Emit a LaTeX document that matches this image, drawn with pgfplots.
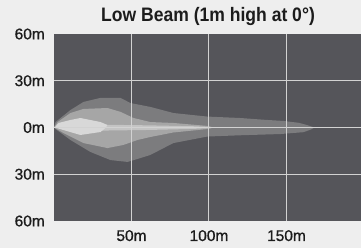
\documentclass[border=0pt]{standalone}
\usepackage{pgfplots}
\pgfplotsset{compat=1.18}
\usepackage{fontspec}
\setmainfont{Liberation Sans}
\newfontfamily\titlefont{Liberation Sans}[UprightFont=*-Bold, FakeStretch=0.9]
\newfontfamily\tickfont{Liberation Sans}[FakeBold=0.8]
\definecolor{bg}{HTML}{EEEEEE}
\definecolor{plotbg}{HTML}{55555A}
\definecolor{outerc}{HTML}{7C7C7E}
\definecolor{midc}{HTML}{A6A6A6}
\definecolor{innerc}{HTML}{D8D8D8}
\definecolor{streak}{HTML}{C4C4C4}
\definecolor{gridc}{HTML}{D2D2D2}
\definecolor{textc}{HTML}{1C1C1C}
\begin{document}
\begin{tikzpicture}
\useasboundingbox (0pt,0pt) rectangle (361pt,248pt);
\fill[bg] (0pt,0pt) rectangle (361pt,248pt);
\node[anchor=base, inner sep=0pt, text=textc, font=\titlefont\fontsize{19.5}{21}\selectfont] at (208pt,226pt) {Low Beam (1m high at 0°)};
\begin{axis}[
  at={(54pt,27pt)}, anchor=south west,
  scale only axis, width=307.5pt, height=187pt,
  xmin=0, xmax=198.4, ymin=-60, ymax=60,
  axis background/.style={fill=plotbg},
  axis line style={draw=none},
  xtick={50,100,150}, xticklabels={50m,100m,150m},
  ytick={-30,0,30}, yticklabels={30m,0m,30m},
  extra y ticks={-60,60}, extra y tick labels={60m,60m},
  extra tick style={grid=none},
  major tick length=0pt,
  grid=major, grid style={gridc, line width=1pt},
  axis on top,
  tick label style={font=\tickfont\fontsize{15.5}{17}\selectfont, text=textc},
  xticklabel style={anchor=base, inner sep=0pt, yshift=-20pt},
  yticklabel style={anchor=east, inner sep=0pt, xshift=-9pt},
]
% outer region
\addplot[fill=outerc, draw=none] coordinates {
 (0,0) (1,3.5) (10.6,11.2) (19,16.4) (30,19) (42.9,19) (49.3,15.7) (62.2,13.2)
 (77,9.3) (99,7) (120,6.1) (135,5) (148,4.2) (158,3) (163.5,1.5) (168,0)
 (166,-1.2) (161,-3) (146,-4.2) (120,-5) (99,-5.8) (77,-10) (62.2,-17.6)
 (55.8,-19.6) (47.4,-22.1) (36.4,-20.9) (23.5,-15.7) (10.6,-8) (1,-1) (0,0)
} -- cycle;
% middle region
\addplot[fill=midc, draw=none] coordinates {
 (0,0) (2.3,3.5) (10.6,9.3) (19,11.9) (34.5,12.5) (43,10) (51.3,6.1) (62.2,3.5)
 (77,2.9) (99,1) (103,0) (99,-1) (77,-3.2) (62.2,-6.1) (53.9,-8) (44.8,-11.2)
 (34.5,-13.2) (19,-10) (6,-3.5) (0,0)
} -- cycle;
% light streak along axis
\addplot[fill=streak, draw=none] coordinates {
 (30,1.8) (60,1.4) (90,0.8) (108,0) (90,-0.9) (60,-1.6) (30,-2)
} -- cycle;
% inner region
\addplot[fill=innerc, draw=none] coordinates {
 (0.5,0) (2.9,2.9) (10.6,4.8) (17,6.1) (30,3.5) (34.5,1.6) (33.2,-0.3)
 (30,-2.9) (17,-4.8) (6,-1.6) (0.5,0)
} -- cycle;
\end{axis}
\end{tikzpicture}
\end{document}
